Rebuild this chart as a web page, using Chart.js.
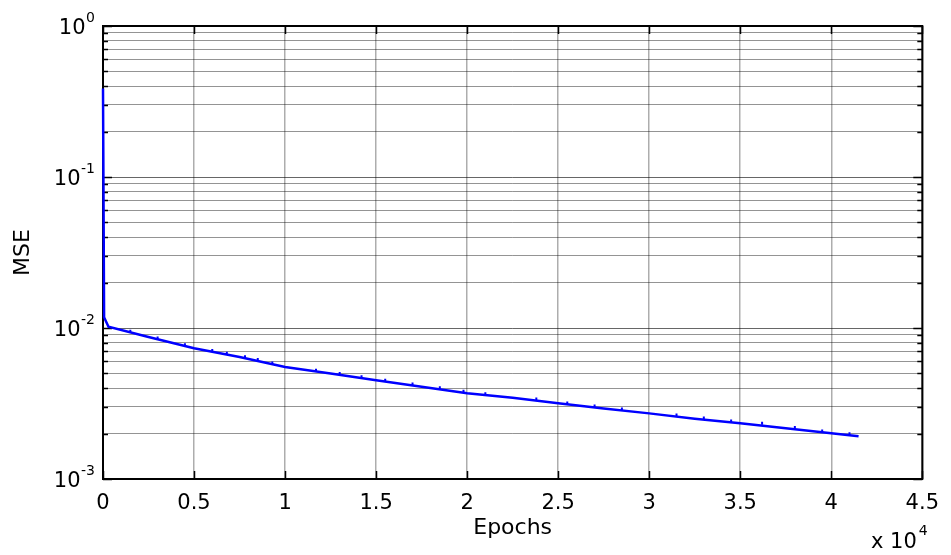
<!DOCTYPE html>
<html>
<head>
<meta charset="utf-8">
<script src="https://cdn.jsdelivr.net/npm/chart.js@4.4.1/dist/chart.umd.min.js"></script>
<style>
  html, body { margin: 0; padding: 0; background: #fff; }
  #wrap { width: 951px; height: 555px; position: relative; }
</style>
</head>
<body>
<div id="wrap"><canvas id="chartMSE"></canvas></div>
<script>
// ── DATA ────────────────────────────────────────────
const epochs = [0, 60, 300, 2500, 5000, 7500, 10000, 12500, 15000, 17500, 20000,
  22500, 25000, 27500, 30000, 32500, 35000, 37500, 40000, 41500];
const mse = [0.386, 0.0118, 0.0102, 0.00872, 0.00734, 0.00643, 0.00552, 0.00500, 0.00451, 0.00408, 0.00370,
  0.00345, 0.00317, 0.00293, 0.00272, 0.00251, 0.00234, 0.00217, 0.00201, 0.00192];

// little vertical jumps along the curve
const spikeEpochs = [1500, 3000, 4500, 6000, 6800, 7800, 8500, 9300, 11700, 13000, 14200, 15500, 17000,
  18500, 19800, 21000, 23800, 25500, 27000, 28500, 31500, 33000, 34500, 36200, 38000, 39500, 41000];
const spikeLow = [0.00935, 0.00845, 0.00760, 0.00695, 0.00668, 0.00633, 0.00605, 0.00575, 0.00515, 0.00490, 0.00465, 0.00442, 0.00416,
  0.00393, 0.00373, 0.00359, 0.00331, 0.00312, 0.00298, 0.00284, 0.00259, 0.00248, 0.00237, 0.00229, 0.00214, 0.00204, 0.00195];
const spikeHigh = [0.00975, 0.00880, 0.00792, 0.00725, 0.00697, 0.00661, 0.00632, 0.00601, 0.00538, 0.00512, 0.00486, 0.00462, 0.00435,
  0.00411, 0.00390, 0.00375, 0.00346, 0.00326, 0.00311, 0.00297, 0.00271, 0.00259, 0.00248, 0.00239, 0.00224, 0.00213, 0.00204];

const xTickValues = [0, 5000, 10000, 15000, 20000, 25000, 30000, 35000, 40000, 45000];
const xTickLabels = ['0', '0.5', '1', '1.5', '2', '2.5', '3', '3.5', '4', '4.5'];
const decadeExps = [-3, -2, -1, 0];
const mantissas = [1, 2, 3, 4, 5, 6, 7, 8, 9];

const FONT = "'DejaVu Sans', 'Liberation Sans', Arial, sans-serif";

// ── DATASETS ────────────────────────────────────────
const mainPoints = epochs.map((e, i) => ({ x: e, y: mse[i] }));
const spikePoints = [];
spikeEpochs.forEach((e, i) => {
  spikePoints.push({ x: e, y: spikeLow[i] }, { x: e, y: spikeHigh[i] }, { x: e, y: null });
});

const yTickList = [];
decadeExps.forEach(ex => {
  mantissas.forEach(m => {
    const v = m * Math.pow(10, ex);
    if (v <= 1.0000001) yTickList.push({ value: v });
  });
});

const isDecade = v => Math.abs(Math.log10(v) - Math.round(Math.log10(v))) < 1e-6;

// ── PLUGIN: MATLAB-style box, inward ticks, log labels ─
const matlabBox = {
  id: 'matlabBox',
  beforeDatasetsDraw(chart) {
    const { ctx, chartArea: a, scales } = chart;
    ctx.save();
    ctx.strokeStyle = '#000';
    ctx.lineWidth = 1.5;
    ctx.beginPath();
    // y ticks, left and right, pointing in
    scales.y.ticks.forEach(t => {
      const y = Math.round(scales.y.getPixelForValue(t.value)) + 0.5;
      const len = isDecade(t.value) ? 9 : 5;
      ctx.moveTo(a.left, y); ctx.lineTo(a.left + len, y);
      ctx.moveTo(a.right, y); ctx.lineTo(a.right - len, y);
    });
    // x ticks, top and bottom
    scales.x.ticks.forEach(t => {
      const x = Math.round(scales.x.getPixelForValue(t.value)) + 0.5;
      ctx.moveTo(x, a.bottom); ctx.lineTo(x, a.bottom - 8);
      ctx.moveTo(x, a.top); ctx.lineTo(x, a.top + 8);
    });
    ctx.stroke();
    ctx.lineWidth = 2;
    ctx.strokeRect(a.left, a.top, a.right - a.left, a.bottom - a.top);
    ctx.restore();
  },
  afterDraw(chart) {
    const { ctx, chartArea: a, scales } = chart;
    ctx.save();
    ctx.fillStyle = '#000';
    ctx.textBaseline = 'alphabetic';
    // 10^n labels
    decadeExps.forEach(ex => {
      const y = scales.y.getPixelForValue(Math.pow(10, ex));
      const sup = String(ex);
      ctx.font = '14px ' + FONT;
      const supW = ctx.measureText(sup).width;
      const right = a.left - 8;
      ctx.textAlign = 'left';
      ctx.fillText(sup, right - supW, y - 4.5);
      ctx.font = '21px ' + FONT;
      ctx.textAlign = 'right';
      ctx.fillText('10', right - supW - 0.5, y + 8);
    });
    // x 10^4 multiplier
    ctx.textAlign = 'left';
    ctx.font = '21px ' + FONT;
    ctx.fillText('x 10', 871, 548);
    const w = ctx.measureText('x 10').width;
    ctx.font = '14px ' + FONT;
    ctx.fillText('4', 871 + w + 2, 535);
    ctx.restore();
  }
};

// ── CHART ───────────────────────────────────────────
new Chart(document.getElementById('chartMSE').getContext('2d'), {
  type: 'line',
  data: {
    datasets: [
      { data: mainPoints, borderColor: '#0000ff', borderWidth: 2.5, pointRadius: 0, tension: 0, clip: 6 },
      { data: spikePoints, borderColor: '#0000ff', borderWidth: 2, pointRadius: 0, spanGaps: false, clip: 6 }
    ]
  },
  options: {
    responsive: true,
    maintainAspectRatio: false,
    animation: false,
    devicePixelRatio: 1,
    layout: { padding: { left: 0, right: 20, top: 26, bottom: 0 } },
    plugins: { legend: { display: false }, tooltip: { enabled: false } },
    scales: {
      x: {
        type: 'linear', min: 0, max: 45000,
        afterBuildTicks: s => { s.ticks = xTickValues.map(v => ({ value: v })); },
        afterFit: s => { s.height = 76; },
        ticks: {
          color: '#000', font: { family: FONT, size: 21 }, padding: 12, maxRotation: 0,
          callback: (v, i) => xTickLabels[i]
        },
        grid: { color: 'rgba(0,0,0,0.32)', lineWidth: 1.5, drawTicks: false },
        border: { display: false },
        title: { display: true, text: 'Epochs', color: '#000', font: { family: FONT, size: 22 }, padding: { top: 0, bottom: 14 } }
      },
      y: {
        type: 'logarithmic', min: 0.001, max: 1,
        afterBuildTicks: s => { s.ticks = yTickList.map(t => ({ value: t.value })); },
        afterFit: s => { s.width = 103; },
        ticks: { display: false },
        grid: {
          color: c => isDecade(c.tick.value) ? 'rgba(0,0,0,0.6)' : 'rgba(0,0,0,0.42)',
          lineWidth: 1, drawTicks: false
        },
        border: { display: false },
        title: { display: true, text: 'MSE', color: '#000', font: { family: FONT, size: 22 }, padding: { top: 10, bottom: 0 } }
      }
    }
  },
  plugins: [matlabBox]
});
</script>
</body>
</html>
